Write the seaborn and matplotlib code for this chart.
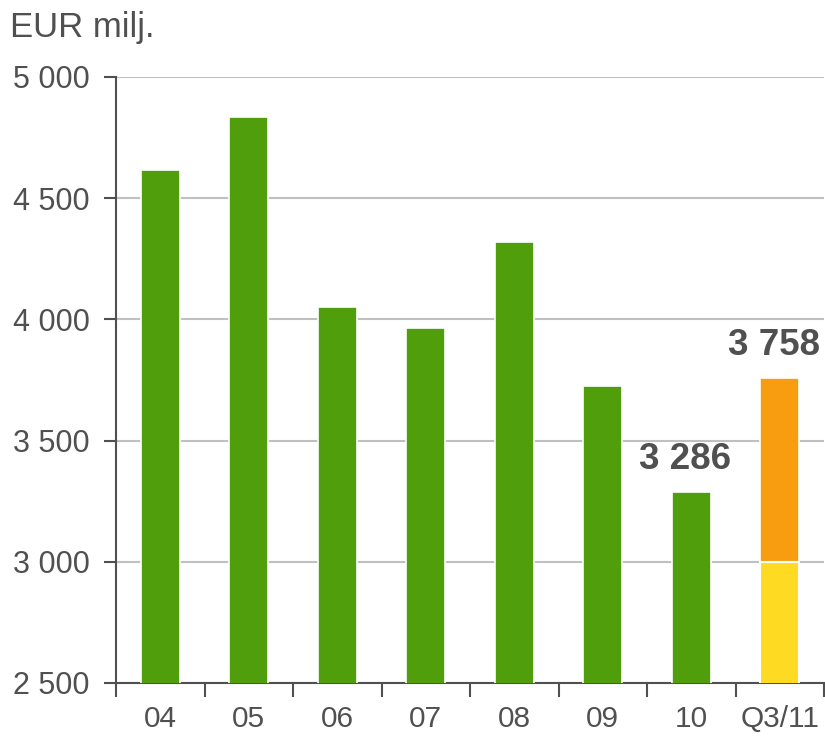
import matplotlib
matplotlib.use("Agg")
import matplotlib.pyplot as plt
import seaborn as sns
import pandas as pd

categories = ["04", "05", "06", "07", "08", "09", "10", "Q3/11"]
values = [4615, 4835, 4050, 3965, 4320, 3725, 3286, 3758]
q3_lower = 3000
labelled = {"10": "3 286", "Q3/11": "3 758"}
y_ticks = [2500, 3000, 3500, 4000, 4500, 5000]

green = "#519E0C"
orange = "#F99D10"
yellow = "#FFDA22"
text_col = "#505050"

sns.set_style("white")
plt.rcParams["font.family"] = ["Liberation Sans", "DejaVu Sans"]

df = pd.DataFrame({"period": categories, "value": values})
df["part"] = ["year"] * 7 + ["q3"]

fig = plt.figure(figsize=(8.25, 7.37), dpi=100)
ax = fig.add_axes([116 / 825, 1 - 683 / 737, 708 / 825, 606 / 737])

sns.barplot(data=df, x="period", y="value", hue="part",
            palette={"year": green, "q3": orange}, width=0.44,
            saturation=1, dodge=False, legend=False, ax=ax,
            edgecolor="white", linewidth=1.2, zorder=3)

# lower (yellow) segment of the last bar
low = pd.DataFrame({"period": categories,
                    "value": [0] * 7 + [q3_lower]})
sns.barplot(data=low, x="period", y="value", color=yellow, width=0.44,
            saturation=1, ax=ax, edgecolor="white", linewidth=1.5,
            zorder=4)

ax.set_ylim(2500, 5000)
ax.set_xlim(-0.5, len(categories) - 0.5)
ax.set_yticks(y_ticks)
ax.set_yticklabels([f"{v:,}".replace(",", " ") for v in y_ticks])
ax.set_xticks(range(len(categories)))
ax.set_xticklabels(categories)
ax.set_xticks([i - 0.5 for i in range(len(categories) + 1)], minor=True)
ax.set_xlabel("")
ax.set_ylabel("")

ax.yaxis.grid(True, color="#C0C0C0", linewidth=1.5, zorder=0)
ax.set_axisbelow(True)

for s in ["top", "right"]:
    ax.spines[s].set_visible(False)
for s in ["left", "bottom"]:
    ax.spines[s].set_color(text_col)
    ax.spines[s].set_linewidth(1.5)

ax.tick_params(axis="y", length=9, width=1.5, color=text_col,
               labelsize=22, labelcolor=text_col, pad=10, left=True)
ax.tick_params(axis="x", which="major", length=0, labelsize=21.5,
               labelcolor=text_col, pad=16)
ax.tick_params(axis="x", which="minor", length=10, width=1.5,
               color=text_col, bottom=True)

for i, cat in enumerate(categories):
    if cat in labelled:
        ax.text(i - 0.07, values[i] + 62, labelled[cat], ha="center",
                va="bottom", fontsize=26.5, fontweight="bold", color=text_col)

fig.text(10 / 825, 1 - 11 / 737, "EUR milj.", fontsize=25, color=text_col,
         ha="left", va="top")

fig.savefig("out.png", dpi=100)
